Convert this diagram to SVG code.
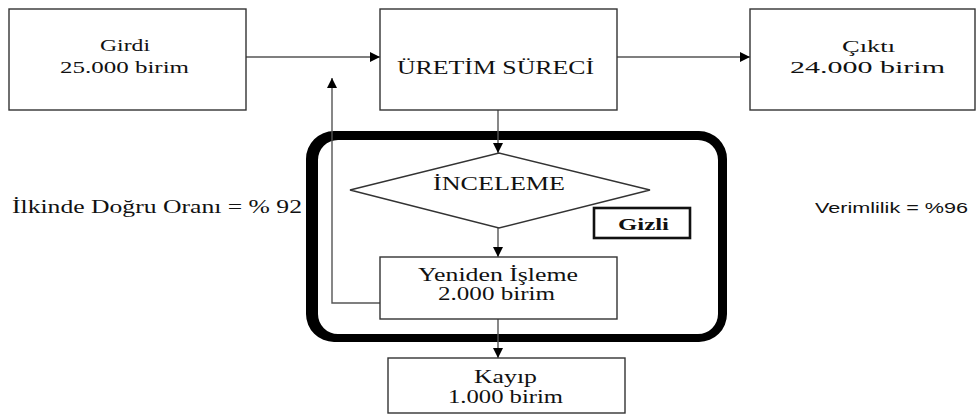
<svg xmlns="http://www.w3.org/2000/svg" width="978" height="415" viewBox="0 0 978 415">
  <style>
    .box { fill: #fff; stroke: #333; stroke-width: 1.4; }
    .line { fill: none; stroke: #555; stroke-width: 1.4; }
  </style>
  <defs>
    <marker id="arrow" viewBox="0 0 10 10" refX="10" refY="5" markerWidth="10" markerHeight="10" markerUnits="userSpaceOnUse" orient="auto">
      <path d="M0,0 L10,5 L0,10 Z" fill="#000"/>
    </marker>
  </defs>

  <rect width="978" height="415" fill="#fff"/>

  <!-- thick rounded frame around the inspection loop -->
  <path id="frame" fill="#000" fill-rule="evenodd"
        d="M334,131 H699 A28,28 0 0 1 727,159 V314 A28,28 0 0 1 699,342 H334 A28,28 0 0 1 306,314 V159 A28,28 0 0 1 334,131 Z
           M338,140 H698 A20,20 0 0 1 718,160 V314 A20,20 0 0 1 698,334 H338 A20,20 0 0 1 318,314 V160 A20,20 0 0 1 338,140 Z"/>

  <g id="connectors">
    <line class="line" x1="246" y1="57" x2="380" y2="57" marker-end="url(#arrow)"/>
    <line class="line" x1="617" y1="57" x2="750" y2="57" marker-end="url(#arrow)"/>
    <line class="line" x1="498" y1="110" x2="498" y2="153" marker-end="url(#arrow)"/>
    <line class="line" x1="498" y1="228" x2="498" y2="257" marker-end="url(#arrow)"/>
    <line class="line" x1="498" y1="319" x2="498" y2="358" marker-end="url(#arrow)"/>
    <polyline class="line" points="380,303 332,303 332,78" marker-end="url(#arrow)"/>
  </g>

  <g font-family="'Liberation Serif', 'DejaVu Serif', serif" fill="#111">
    <g id="girdi">
      <rect class="box" x="9" y="9" width="237" height="101"/>
      <text x="100" y="51" font-size="17" textLength="50" lengthAdjust="spacingAndGlyphs">Girdi</text>
      <text x="60" y="73" font-size="17" textLength="129" lengthAdjust="spacingAndGlyphs">25.000 birim</text>
    </g>

    <g id="uretim">
      <rect class="box" x="380" y="9" width="237" height="101"/>
      <text x="397" y="74" font-size="19" textLength="197" lengthAdjust="spacingAndGlyphs">ÜRETİM SÜRECİ</text>
    </g>

    <g id="cikti">
      <rect class="box" x="750" y="9" width="225" height="101"/>
      <text x="842" y="51.5" font-size="17" textLength="53" lengthAdjust="spacingAndGlyphs">Çıktı</text>
      <text x="790" y="73" font-size="17" textLength="155" lengthAdjust="spacingAndGlyphs">24.000 birim</text>
    </g>

    <g id="inceleme">
      <polygon class="box" points="350,190 499,153 650,190 499,228"/>
      <text x="433" y="190" font-size="18" textLength="132" lengthAdjust="spacingAndGlyphs">İNCELEME</text>
    </g>

    <g id="gizli">
      <rect x="594" y="208" width="96" height="30" fill="#fff" stroke="#111" stroke-width="2.6"/>
      <text x="618" y="230" font-size="16" font-weight="bold" textLength="51" lengthAdjust="spacingAndGlyphs">Gizli</text>
    </g>

    <g id="yeniden">
      <rect class="box" x="380" y="257" width="237" height="62"/>
      <text x="418" y="280.5" font-size="18" textLength="160" lengthAdjust="spacingAndGlyphs">Yeniden İşleme</text>
      <text x="438" y="300" font-size="18" textLength="117" lengthAdjust="spacingAndGlyphs">2.000 birim</text>
    </g>

    <g id="kayip">
      <rect class="box" x="388" y="358" width="237" height="55"/>
      <text x="474" y="382.5" font-size="18" textLength="63" lengthAdjust="spacingAndGlyphs">Kayıp</text>
      <text x="448" y="402.5" font-size="18" textLength="115" lengthAdjust="spacingAndGlyphs">1.000 birim</text>
    </g>

    <g id="ilk-dogru">
      <text x="12" y="213" font-size="18" textLength="290" lengthAdjust="spacingAndGlyphs">İlkinde Doğru Oranı = % 92</text>
    </g>
  </g>

  <g id="verimlilik">
    <text x="815" y="212.5" font-family="'Liberation Sans', Arial, sans-serif" fill="#111" font-size="14" textLength="153" lengthAdjust="spacingAndGlyphs">Verimlilik = %96</text>
  </g>
</svg>
